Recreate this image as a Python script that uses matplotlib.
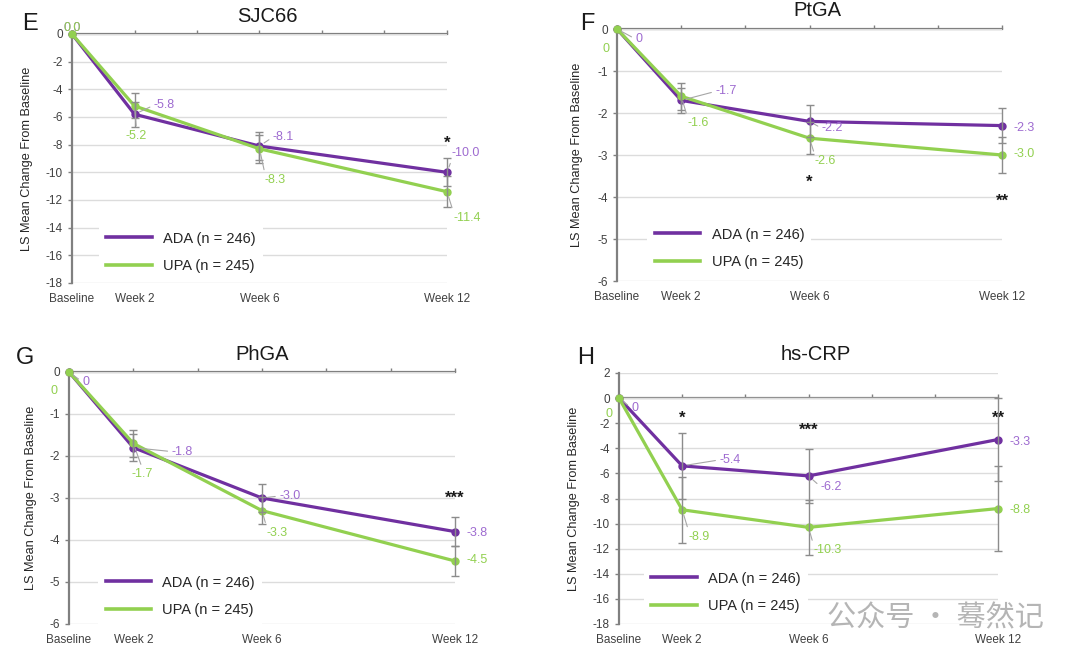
import numpy as np
import matplotlib
matplotlib.use("Agg")
from matplotlib import pyplot as plt

plt.rcParams["font.family"] = ["Liberation Sans", "DejaVu Sans"]
plt.rcParams["axes.unicode_minus"] = False

WEEKS = [0, 2, 6, 12]
WEEK_LABELS = ["Baseline", "Week 2", "Week 6", "Week 12"]
SERIES_LABELS = ["ADA (n = 246)", "UPA (n = 245)"]

# LS mean change from baseline and error bar half widths
sjc66_ada = [0.0, -5.8, -8.1, -10.0]
sjc66_upa = [0.0, -5.2, -8.3, -11.4]
sjc66_ada_err = [0.0, 0.9, 1.0, 1.0]
sjc66_upa_err = [0.0, 0.9, 1.0, 1.1]
sjc66_sig = ["", "", "", "*"]

ptga_ada = [0.0, -1.7, -2.2, -2.3]
ptga_upa = [0.0, -1.6, -2.6, -3.0]
ptga_ada_err = [0.0, 0.3, 0.38, 0.42]
ptga_upa_err = [0.0, 0.32, 0.38, 0.44]
ptga_sig = ["", "", "*", "**"]

phga_ada = [0.0, -1.8, -3.0, -3.8]
phga_upa = [0.0, -1.7, -3.3, -4.5]
phga_ada_err = [0.0, 0.33, 0.34, 0.34]
phga_upa_err = [0.0, 0.33, 0.32, 0.35]
phga_sig = ["", "", "", "***"]

crp_ada = [0.0, -5.4, -6.2, -3.3]
crp_upa = [0.0, -8.9, -10.3, -8.8]
crp_ada_err = [0.0, 2.65, 2.15, 3.3]
crp_upa_err = [0.0, 2.65, 2.2, 3.35]
crp_sig = ["", "*", "***", "**"]

PURPLE = "#7030A0"
GREEN = "#92D050"
PURPLE_TXT = "#9E6BD0"
GREEN_TXT = "#92D050"
AXIS_GREY = "#808080"
TEXT_GREY = "#404040"

W, H = 1080, 662


def fx(px):
    return px / W


def fy(py):
    return 1 - py / H


panels = [
    dict(letter="E", title="SJC66", ada=sjc66_ada, upa=sjc66_upa,
         ada_err=sjc66_ada_err, upa_err=sjc66_upa_err, sig=sjc66_sig,
         zero="0.0", ylim=(-18, 0), yticks=np.arange(-18, 1, 2),
         box=(72, 34, 447, 283), title_xy=(267, 16), letter_xy=(30, 24),
         sig_y=[0, 0, 0, -7.6], leg=(0.053, 0.265), ylab_x=-0.104,
         ada_off=[(0, 6, False), (30, 9, True), (24, 9, True), (19, 19, True)],
         upa_off=[(0, 6, False), (2, -30, True), (16, -31, True), (20, -26, True)]),
    dict(letter="F", title="PtGA", ada=ptga_ada, upa=ptga_upa,
         ada_err=ptga_ada_err, upa_err=ptga_upa_err, sig=ptga_sig,
         zero="0", ylim=(-6, 0), yticks=np.arange(-6, 1, 1),
         box=(617, 29, 1002, 281), title_xy=(817, 11), letter_xy=(587, 24),
         sig_y=[0, 0, -3.55, -4.0], leg=(0.06, 0.27), ylab_x=-0.088,
         ada_off=[(22, -10, True), (45, 9, True), (23, -7, True), (22, -2, False)],
         upa_off=[(-11, -20, False), (17, -27, True), (16, -23, True), (22, 1, False)]),
    dict(letter="G", title="PhGA", ada=phga_ada, upa=phga_upa,
         ada_err=phga_ada_err, upa_err=phga_upa_err, sig=phga_sig,
         zero="0", ylim=(-6, 0), yticks=np.arange(-6, 1, 1),
         box=(69, 372, 455, 624), title_xy=(262, 355), letter_xy=(25, 358),
         sig_y=[0, 0, 0, -2.9], leg=(0.057, 0.25), ylab_x=-0.083,
         ada_off=[(17, -10, True), (49, -4, True), (28, 2, True), (22, -1, False)],
         upa_off=[(-15, -19, False), (9, -31, True), (15, -22, True), (22, 1, False)]),
    dict(letter="H", title="hs-CRP", ada=crp_ada, upa=crp_upa,
         ada_err=crp_ada_err, upa_err=crp_upa_err, sig=crp_sig,
         zero="0", ylim=(-18, 2), yticks=np.arange(-18, 3, 2),
         box=(619, 373, 998, 624), title_xy=(816, 355), letter_xy=(586, 358),
         sig_y=[0, -1.3, -2.25, -1.3], leg=(0.047, 0.267), ylab_x=-0.103,
         ada_off=[(16, -10, True), (48, 6, True), (23, -11, True), (22, -2, False)],
         upa_off=[(-10, -16, False), (17, -27, True), (19, -23, True), (22, -1, False)]),
]

fig = plt.figure(figsize=(W / 100, H / 100), dpi=100)

for p in panels:
    x0, y0, x1, y1 = p["box"]
    ax = fig.add_axes([fx(x0), fy(y1), fx(x1 - x0), (y1 - y0) / H])
    ymin, ymax = p["ylim"]
    ax.set_xlim(0, 12)
    ax.set_ylim(ymin, ymax)

    # grid
    ax.set_yticks(p["yticks"])
    ax.yaxis.grid(True, color="#DCDCDC", lw=1.0)
    ax.set_axisbelow(True)
    ax.tick_params(axis="y", labelsize=8.5, labelcolor=TEXT_GREY, color=AXIS_GREY,
                   length=3, width=1)
    for s in ["top", "right", "bottom"]:
        ax.spines[s].set_visible(False)
    ax.spines["left"].set_color(AXIS_GREY)
    ax.spines["left"].set_linewidth(1.6)

    ax.set_xticks(WEEKS)
    ax.set_xticklabels(WEEK_LABELS, fontsize=8.5, color=TEXT_GREY)
    ax.tick_params(axis="x", length=0, pad=7)

    # zero line with ticks every two weeks
    frac = (0 - ymin) / (ymax - ymin)
    sec = ax.secondary_xaxis(frac)
    sec.set_xticks(np.arange(0, 13, 2))
    sec.tick_params(length=3, width=1, color=AXIS_GREY, labeltop=False, labelbottom=False)
    for s in sec.spines.values():
        s.set_color(AXIS_GREY)
        s.set_linewidth(1.6)

    ax.set_ylabel("LS Mean Change From Baseline", fontsize=9.2, color="#262626")
    ax.yaxis.set_label_coords(p["ylab_x"], 0.5)

    series = [
        (p["ada"], p["ada_err"], PURPLE, PURPLE_TXT, p["ada_off"], SERIES_LABELS[0]),
        (p["upa"], p["upa_err"], GREEN, GREEN_TXT, p["upa_off"], SERIES_LABELS[1]),
    ]
    for vals, err, col, tcol, offs, lab in series:
        ax.plot(WEEKS, vals, color=col, lw=2.3, marker="o", ms=5, label=lab,
                clip_on=False, zorder=3)
        ax.errorbar(WEEKS[1:], vals[1:], yerr=err[1:], fmt="none", ecolor="#8C8C8C",
                    elinewidth=1, capsize=3, capthick=1, zorder=4, clip_on=False)
        for i, (wk, v) in enumerate(zip(WEEKS, vals)):
            txt = p["zero"] if i == 0 else f"{v:.1f}"
            dx, dy, leader = offs[i]
            rx = 0.0 if dx > 12 else (1.0 if dx < -8 else 0.5)
            ry = 0.5 if abs(dy) < 12 else (1.0 if dy < 0 else 0.0)
            ap = None
            if leader:
                ap = dict(arrowstyle="-", color="#A6A6A6", lw=0.8, shrinkA=1, shrinkB=4,
                          relpos=(rx, ry))
            ax.annotate(txt, (wk, v), xytext=(dx, dy), textcoords="offset pixels",
                        ha="center", va="center", fontsize=9, color=tcol,
                        arrowprops=ap, annotation_clip=False, zorder=5)

    for wk, s, sy in zip(WEEKS, p["sig"], p["sig_y"]):
        if s:
            ax.annotate(s, (wk, sy), xytext=(0, -4), textcoords="offset pixels",
                        ha="center", va="center", fontsize=12, fontweight="bold",
                        color="#1A1A1A", annotation_clip=False)

    leg = ax.legend(loc="upper left", bbox_to_anchor=p["leg"], fontsize=10.5,
                    frameon=True, facecolor="white", edgecolor="none", framealpha=1,
                    handlelength=3.1, handletextpad=0.8, labelspacing=0.9,
                    borderpad=0.5, fancybox=False)
    for t in leg.get_texts():
        t.set_color("#262626")
    for h in leg.legend_handles:
        h.set_marker("")
        h.set_linewidth(2.6)

    fig.text(fx(p["title_xy"][0]), fy(p["title_xy"][1]), p["title"], ha="center",
             va="center", fontsize=14.5, color="#1A1A1A")
    fig.text(fx(p["letter_xy"][0]), fy(p["letter_xy"][1]), p["letter"], ha="center",
             va="center", fontsize=17, color="#1A1A1A")

fig.text(fx(827), fy(618), "公众号 · 蓦然记", ha="left", va="center", fontsize=21,
         color="#A8A8A8", alpha=0.85, family=["Noto Sans CJK SC", "DejaVu Sans"])

fig.savefig("out.png", dpi=100)
